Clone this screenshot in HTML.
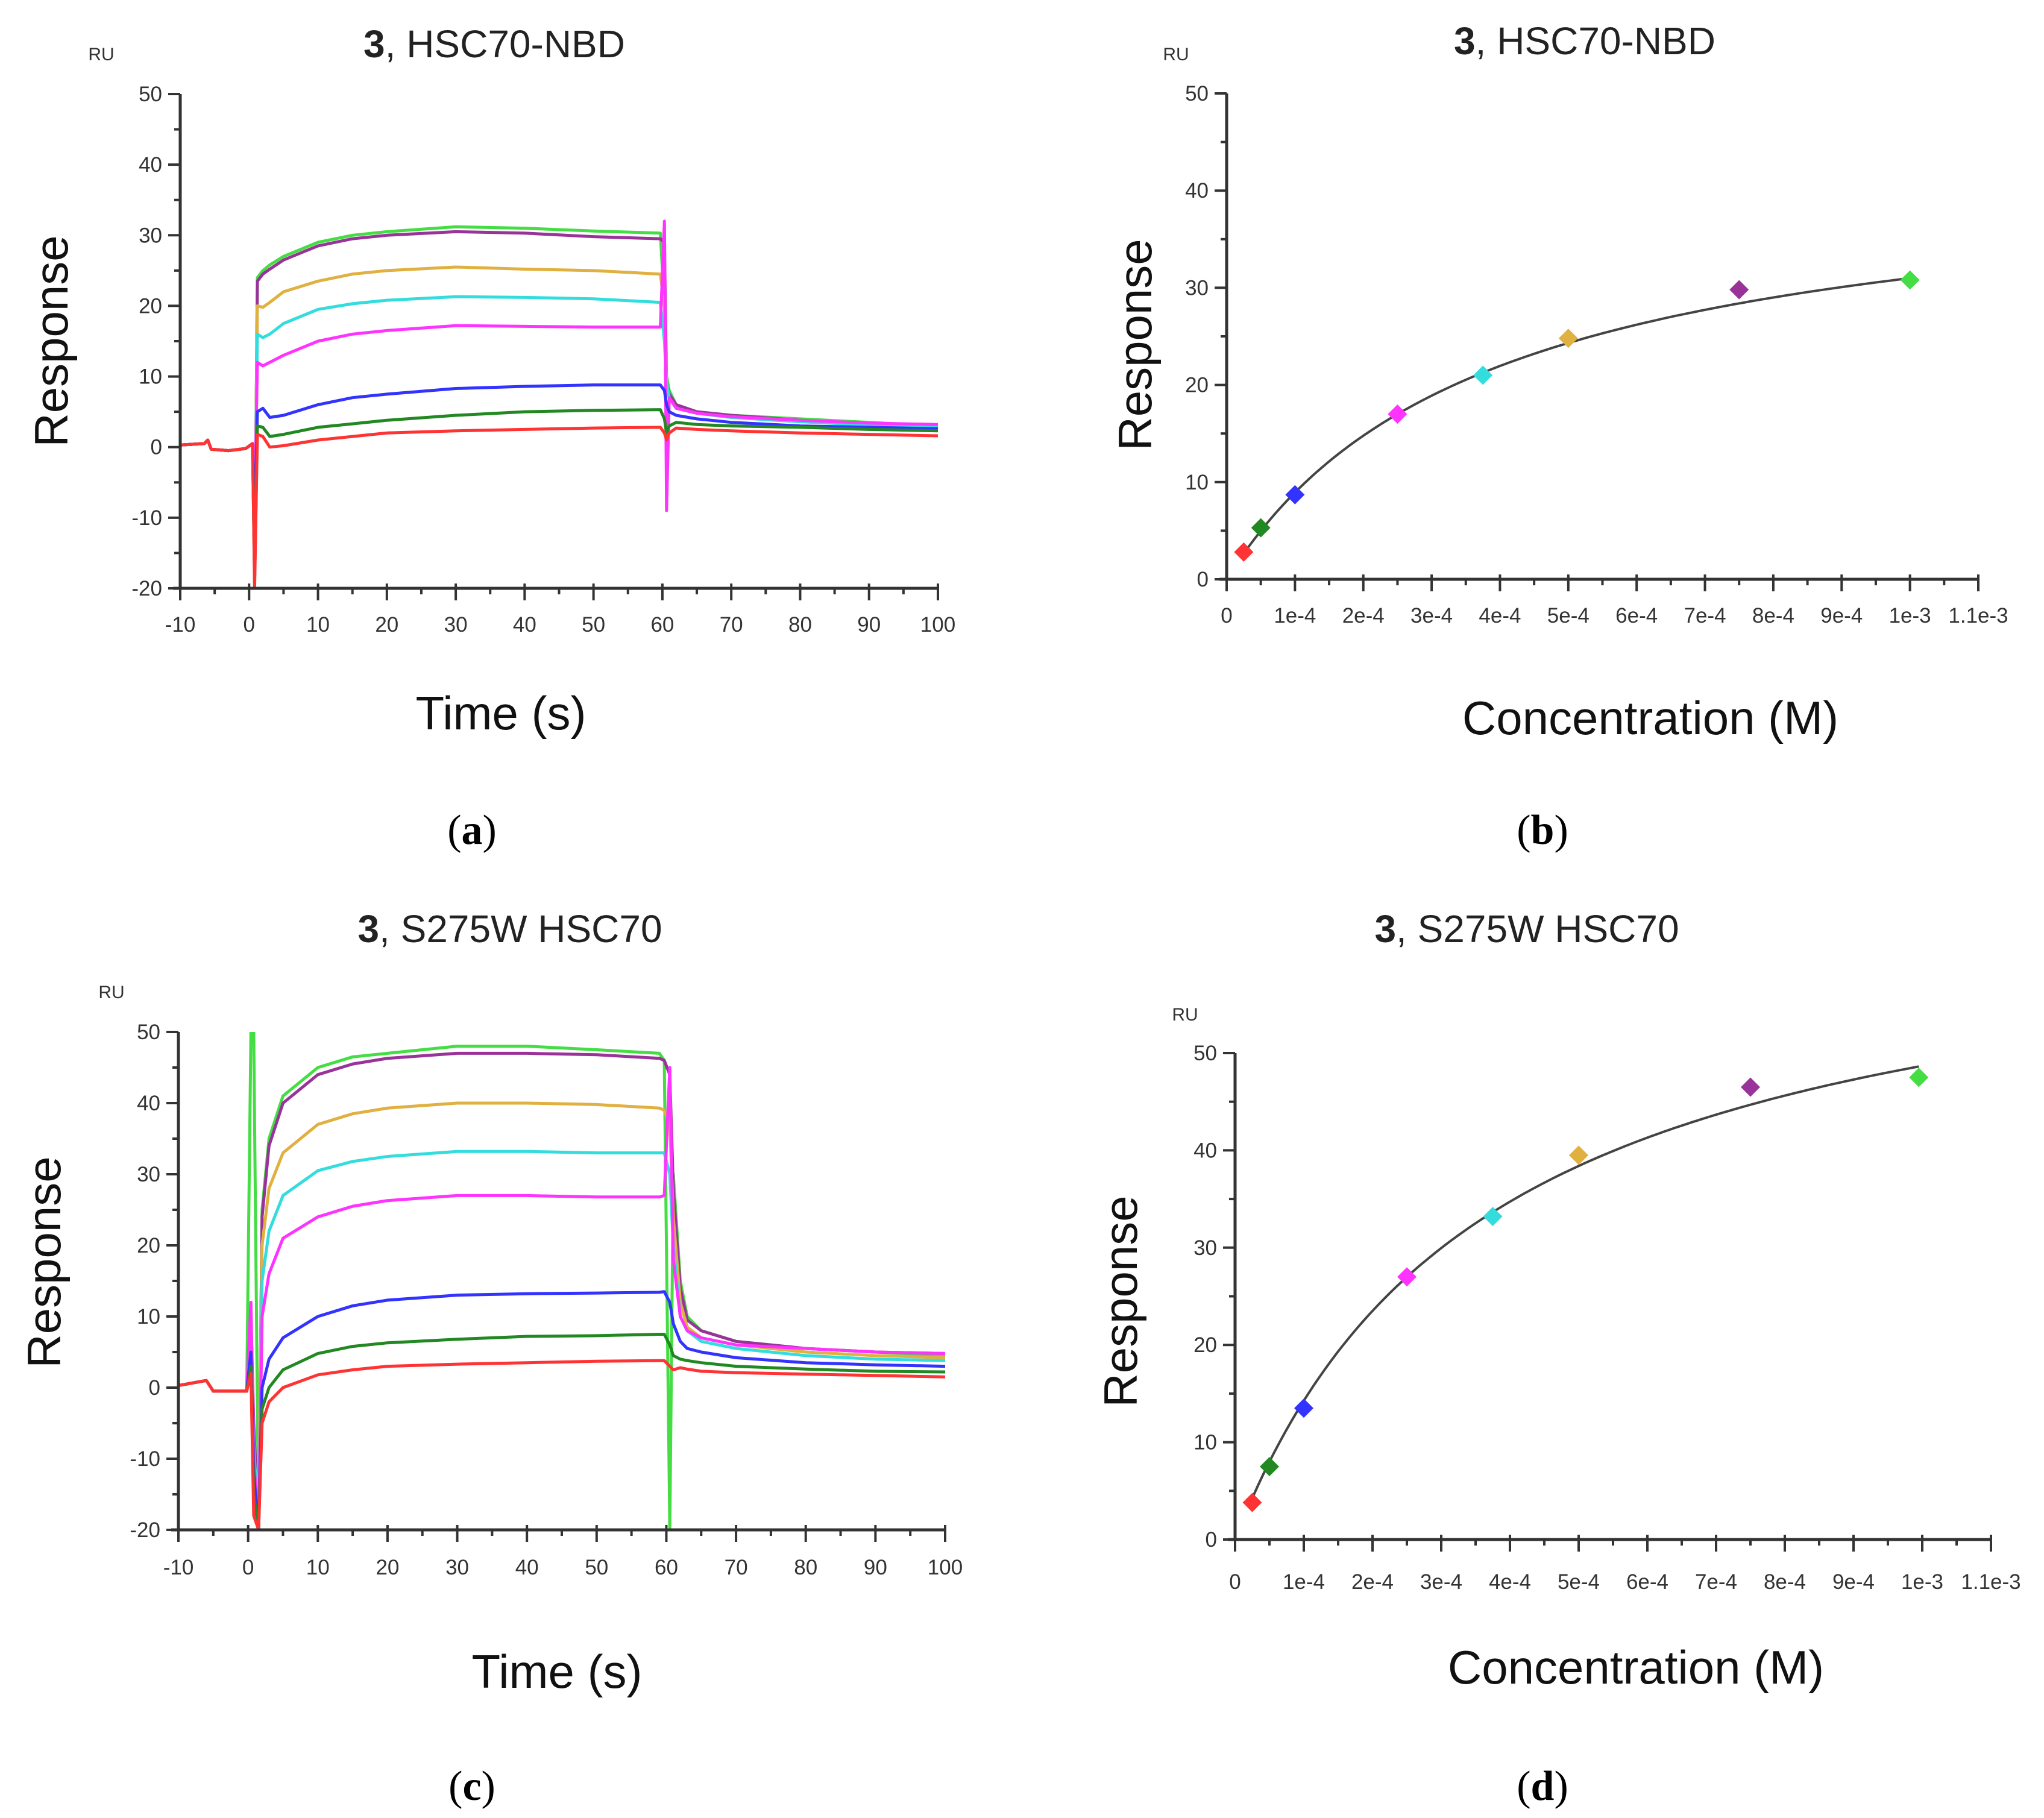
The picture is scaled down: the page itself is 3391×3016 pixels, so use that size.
<!DOCTYPE html>
<html><head><meta charset="utf-8"><style>
html,body{margin:0;padding:0;background:#fff}
svg{display:block}
text{font-family:"Liberation Sans",sans-serif}
text.cap{font-family:"Liberation Serif",serif}
</style></head><body>
<svg id="fig" width="3391" height="3016" viewBox="0 0 3391 3016" xmlns="http://www.w3.org/2000/svg">
<defs>
<clipPath id="clipA"><rect x="299" y="156" width="1257" height="820"/></clipPath>
<clipPath id="clipC"><rect x="296" y="1712" width="1272" height="826"/></clipPath>
</defs>
<g>
<text x="820" y="95" font-size="64" text-anchor="middle" fill="#222"><tspan font-weight="bold">3</tspan>, HSC70-NBD</text>
<text x="168" y="100" font-size="30" text-anchor="middle" fill="#333">RU</text>
<text transform="translate(112,566) rotate(-90)" font-size="78" text-anchor="middle" fill="#111">Response</text>
<text x="831" y="1210" font-size="78" text-anchor="middle" fill="#111">Time (s)</text>
<text class="cap" style="font-family:'Liberation Serif',serif" x="783" y="1400" font-size="70" text-anchor="middle" fill="#000">(<tspan font-weight="bold">a</tspan>)</text>
</g>
<g>
<text x="2629" y="90" font-size="64" text-anchor="middle" fill="#222"><tspan font-weight="bold">3</tspan>, HSC70-NBD</text>
<text x="1951" y="100" font-size="30" text-anchor="middle" fill="#333">RU</text>
<text transform="translate(1910,572) rotate(-90)" font-size="78" text-anchor="middle" fill="#111">Response</text>
<text x="2738" y="1218" font-size="78" text-anchor="middle" fill="#111">Concentration (M)</text>
<text class="cap" style="font-family:'Liberation Serif',serif" x="2559" y="1400" font-size="70" text-anchor="middle" fill="#000">(<tspan font-weight="bold">b</tspan>)</text>
</g>
<g>
<text x="846" y="1563" font-size="64" text-anchor="middle" fill="#222"><tspan font-weight="bold">3</tspan>, S275W HSC70</text>
<text x="185" y="1656" font-size="30" text-anchor="middle" fill="#333">RU</text>
<text transform="translate(100,2094) rotate(-90)" font-size="78" text-anchor="middle" fill="#111">Response</text>
<text x="924" y="2800" font-size="78" text-anchor="middle" fill="#111">Time (s)</text>
<text class="cap" style="font-family:'Liberation Serif',serif" x="783" y="2986" font-size="70" text-anchor="middle" fill="#000">(<tspan font-weight="bold">c</tspan>)</text>
</g>
<g>
<text x="2533" y="1563" font-size="64" text-anchor="middle" fill="#222"><tspan font-weight="bold">3</tspan>, S275W HSC70</text>
<text x="1966" y="1693" font-size="30" text-anchor="middle" fill="#333">RU</text>
<text transform="translate(1886,2159) rotate(-90)" font-size="78" text-anchor="middle" fill="#111">Response</text>
<text x="2714" y="2793" font-size="78" text-anchor="middle" fill="#111">Concentration (M)</text>
<text class="cap" style="font-family:'Liberation Serif',serif" x="2559" y="2986" font-size="70" text-anchor="middle" fill="#000">(<tspan font-weight="bold">d</tspan>)</text>
</g>
</svg>
<script>
// ---- shared ----
const seriesNames = ['green','purple','orange','cyan','magenta','blue','darkgreen','red'];
const seriesColors = ['#44dd44','#993399','#e0b040','#33dddd','#ff33ff','#3333ff','#228822','#ff3333'];
const sensorYTicks = [-20,-10,0,10,20,30,40,50];
const timeTicks = [-10,0,10,20,30,40,50,60,70,80,90,100];
const concTicks = [0,1e-4,2e-4,3e-4,4e-4,5e-4,6e-4,7e-4,8e-4,9e-4,1e-3,1.1e-3];
const concTickLabels = ['0','1e-4','2e-4','3e-4','4e-4','5e-4','6e-4','7e-4','8e-4','9e-4','1e-3','1.1e-3'];
const affYTicks = [0,10,20,30,40,50];

// ---- panel a: sensorgram HSC70-NBD ----
const timesA = [-10,-6.5,-6,-5.5,-3,-0.5,0.5,0.8,1.2,2,3,5,10,15,20,30,40,50,59.7,60.3,60.6,61,62,65,70,80,90,100];
const aGreen   = [0.3,0.5,1.0,-0.3,-0.5,-0.2,0.5,-20,24,25,25.8,27,29,30,30.5,31.2,31,30.6,30.3,20,10,8,6,5,4.5,4,3.5,3];
const aPurple  = [0.3,0.5,1.0,-0.3,-0.5,-0.2,0.5,-18,23.5,24.5,25.2,26.5,28.5,29.5,30,30.5,30.3,29.8,29.5,29,9,7.5,6,5,4.5,3.8,3.3,3.1];
const aOrange  = [0.3,0.5,1.0,-0.3,-0.5,-0.2,0.5,-15,20,19.8,20.5,22,23.5,24.5,25,25.5,25.2,25,24.5,20,9,7,5.5,4.8,4.2,3.6,3.2,3];
const aCyan    = [0.3,0.5,1.0,-0.3,-0.5,-0.2,0.5,-12,16,15.5,16,17.5,19.5,20.3,20.8,21.3,21.2,21,20.5,15,9,7,5.5,4.8,4.2,3.6,3.1,2.9];
const aMagenta = [0.3,0.5,1.0,-0.3,-0.5,-0.2,0.5,-10,12,11.5,12,13,15,16,16.5,17.2,17.1,17,17,32,-9,7,5.5,4.8,4.3,3.8,3.4,3.2];
const aBlue    = [0.3,0.5,1.0,-0.3,-0.5,-0.2,0.5,-12,5,5.5,4.2,4.5,6,7,7.5,8.3,8.6,8.8,8.8,8,6,5,4.5,4,3.5,3,2.8,2.6];
const aDkGreen = [0.3,0.5,1.0,-0.3,-0.5,-0.2,0.5,-19,3,2.8,1.5,1.8,2.8,3.3,3.8,4.5,5,5.2,5.3,4,2,3,3.5,3.2,3,2.8,2.5,2.3];
const aRed     = [0.3,0.5,1.0,-0.3,-0.5,-0.2,0.5,-20,1.8,1.5,0,0.2,1,1.5,2,2.3,2.5,2.7,2.8,2,1,2,2.7,2.5,2.3,2,1.8,1.6];

// ---- panel c: sensorgram S275W ----
const timesC = [-10,-6,-5,-1,-0.2,0.4,0.8,1.5,2,3,5,10,15,20,30,40,50,59,59.7,60.5,61,62,63,65,70,80,90,100];
const cGreen   = [0.3,1,-0.5,-0.5,-0.5,50,50,-20,25,35,41,45,46.5,47,48,48,47.5,47,46,-20,30,15,10,8,6.5,5.5,5,4.5];
const cPurple  = [0.3,1,-0.5,-0.5,-0.5,10,-5,-20,24,34,40,44,45.5,46.3,47,47,46.8,46.3,46,44,28,14,9.5,8,6.5,5.5,5,4.8];
const cOrange  = [0.3,1,-0.5,-0.5,-0.5,10,-10,-15,20,28,33,37,38.5,39.3,40,40,39.8,39.3,39,37,24,12,8.5,7,6,5,4.5,4.2];
const cCyan    = [0.3,1,-0.5,-0.5,-0.5,8,-8,-20,15,22,27,30.5,31.8,32.5,33.2,33.2,33,33,33,30,20,10,8,6.5,5.5,4.5,4,3.8];
const cMagenta = [0.3,1,-0.5,-0.5,-0.5,12,-10,-20,10,16,21,24,25.5,26.3,27,27,26.8,26.8,27,45,18,10,8,7,6,5.5,5,4.8];
const cBlue    = [0.3,1,-0.5,-0.5,-0.5,5,-12,-20,0,4,7,10,11.5,12.3,13,13.2,13.3,13.4,13.5,12,9,6.5,5.5,5,4.2,3.5,3.2,3];
const cDkGreen = [0.3,1,-0.5,-0.5,-0.5,3,-15,-20,-3,0,2.5,4.8,5.8,6.3,6.8,7.2,7.3,7.5,7.5,6,4.5,4,3.8,3.5,3,2.6,2.3,2.2];
const cRed     = [0.3,1,-0.5,-0.5,-0.5,2,-18,-20,-5,-2,0,1.8,2.5,3,3.3,3.5,3.7,3.8,3.8,3,2.5,2.8,2.6,2.3,2.1,1.9,1.7,1.5];

// ---- panel b: affinity HSC70-NBD ----
const concB = [2.5e-5,5e-5,1e-4,2.5e-4,3.75e-4,5e-4,7.5e-4,1e-3];
const respB = [2.8,5.3,8.7,17,21,24.8,29.8,30.8];
const fitRmaxB = 42.7;
const fitKdB = 3.78e-4;

// ---- panel d: affinity S275W ----
const concD = [2.5e-5,5e-5,1e-4,2.5e-4,3.75e-4,5e-4,7.5e-4,9.95e-4];
const respD = [3.8,7.5,13.5,27,33.2,39.5,46.5,47.5];
const fitRmaxD = 66.5;
const fitKdD = 3.66e-4;

const NS='http://www.w3.org/2000/svg';
const svg=document.getElementById('fig');
function mk(tag,attrs,parent){const e=document.createElementNS(NS,tag);for(const k in attrs)e.setAttribute(k,attrs[k]);(parent||svg).appendChild(e);return e;}

function drawAxes(g,p,xt,xl,yt){
  const ax=p.x0, ay=p.y0;
  const yAxis=mk('line',{x1:ax,y1:p.sy(yt[yt.length-1]),x2:ax,y2:p.y0,stroke:'#333','stroke-width':5},g);
  
  
  const xAxis=mk('line',{x1:ax-12,y1:ay,x2:p.sx(xt[xt.length-1]),y2:ay,stroke:'#333','stroke-width':5},g);
  
  
  xt.forEach((v,i)=>{
    const x=p.sx(v);
    const t=mk('line',{x1:x,y1:ay-8,x2:x,y2:ay+20,stroke:'#333','stroke-width':4},g);
    
    
    const lb=mk('text',{x:x,y:p.xlabY,'font-size':35,'text-anchor':'middle',fill:'#333'},g);
    lb.textContent=xl[i];
    
    
    if(i<xt.length-1){
      const mx=p.sx((v+xt[i+1])/2);
      const m=mk('line',{x1:mx,y1:ay,x2:mx,y2:ay+10,stroke:'#333','stroke-width':4},g);
      
      
    }
  });
  yt.forEach((v,i)=>{
    const y=p.sy(v);
    const t=mk('line',{x1:ax-20,y1:y,x2:ax,y2:y,stroke:'#333','stroke-width':4},g);
    
    
    const lb=mk('text',{x:ax-30,y:y+12,'font-size':35,'text-anchor':'end',fill:'#333'},g);
    lb.textContent=String(v);
    
    
    if(i<yt.length-1){
      const my=p.sy((v+yt[i+1])/2);
      const m=mk('line',{x1:ax-10,y1:my,x2:ax,y2:my,stroke:'#333','stroke-width':4},g);
      
      
    }
  });
}

function sensorPanel(name,p,times,series,clip){
  const g=mk('g',{});
  
  
  const lg=mk('g',{'clip-path':'url(#'+clip+')'},g);
  series.forEach((vals,si)=>{
    const d=vals.map((v,i)=>(i?'L':'M')+p.sx(times[i]).toFixed(1)+','+p.sy(v).toFixed(1)).join(' ');
    const pa=mk('path',{d:d,fill:'none',stroke:seriesColors[si],'stroke-width':5,'stroke-linejoin':'round'},lg);
    
    
  });
  drawAxes(g,p,timeTicks,timeTicks.map(String),sensorYTicks);
}

function affinityPanel(name,p,conc,resp,rmax,kd){
  const g=mk('g',{});
  
  
  drawAxes(g,p,concTicks,concTickLabels,affYTicks);
  let d='';
  const c0=conc[0], c1=conc[conc.length-1];
  for(let i=0;i<=120;i++){
    const c=c0+(c1-c0)*i/120;
    const r=rmax*c/(kd+c);
    d+=(i?'L':'M')+p.sx(c).toFixed(1)+','+p.sy(r).toFixed(1)+' ';
  }
  const fit=mk('path',{d:d,fill:'none',stroke:'#444','stroke-width':4},g);
  
  
  conc.forEach((c,i)=>{
    const x=p.sx(c), y=p.sy(resp[i]), s=16;
    const m=mk('polygon',{points:`${x},${y-s} ${x+s},${y} ${x},${y+s} ${x-s},${y}`,fill:seriesColors[7-i]},g);
    
    
  });
}

function lin(d0,d1,r0,r1){return v=>r0+(v-d0)*(r1-r0)/(d1-d0);}

sensorPanel('sensorgram-panel-a',{x0:299,y0:976,sx:lin(-10,100,299,1556),sy:lin(-20,50,976,156),xlabY:1048},
  timesA,[aGreen,aPurple,aOrange,aCyan,aMagenta,aBlue,aDkGreen,aRed],'clipA');
sensorPanel('sensorgram-panel-c',{x0:296,y0:2538,sx:lin(-10,100,296,1568),sy:lin(-20,50,2538,1712),xlabY:2612},
  timesC,[cGreen,cPurple,cOrange,cCyan,cMagenta,cBlue,cDkGreen,cRed],'clipC');
affinityPanel('affinity-panel-b',{x0:2035,y0:961,sx:lin(0,1.1e-3,2035,3282),sy:lin(0,50,961,155),xlabY:1033},
  concB,respB,fitRmaxB,fitKdB);
affinityPanel('affinity-panel-d',{x0:2049,y0:2554,sx:lin(0,1.1e-3,2049,3303),sy:lin(0,50,2554,1747),xlabY:2636},
  concD,respD,fitRmaxD,fitKdD);
</script>
</body></html>
